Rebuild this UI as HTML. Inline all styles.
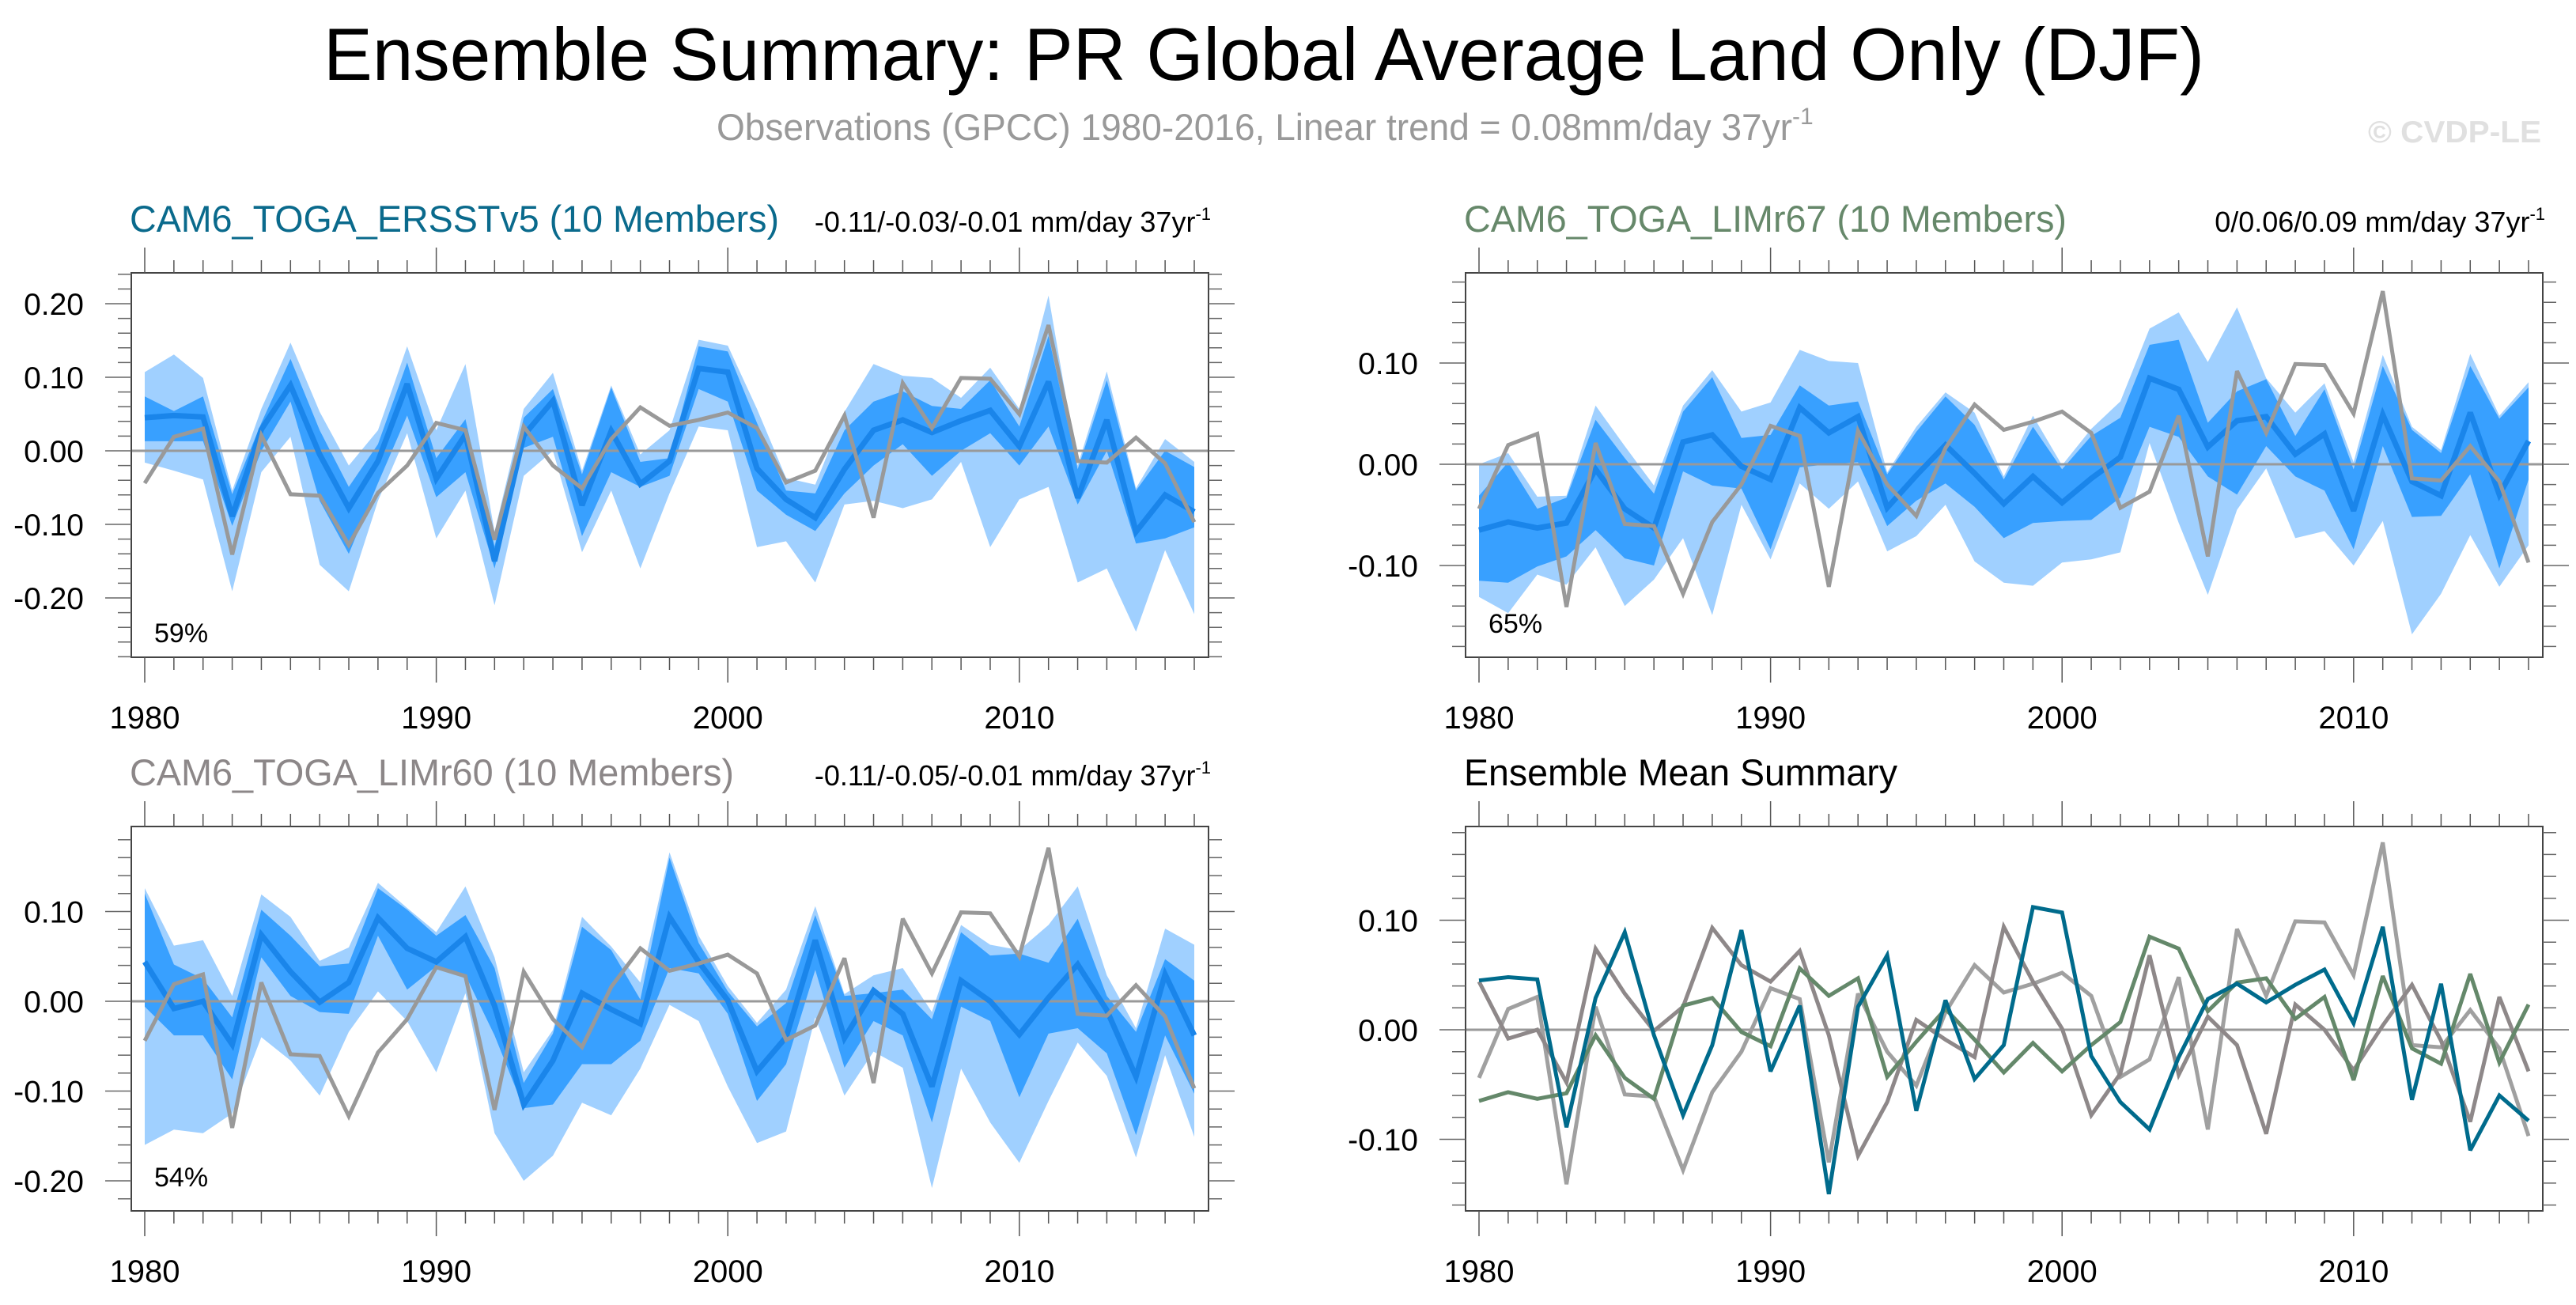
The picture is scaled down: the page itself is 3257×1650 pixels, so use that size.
<!DOCTYPE html>
<html><head><meta charset="utf-8"><style>
html,body{margin:0;padding:0;background:#fff;}
svg{display:block;font-family:"Liberation Sans",Arial,sans-serif;}
</style></head><body>
<svg id="chart" width="3257" height="1650" viewBox="0 0 3257 1650" xmlns="http://www.w3.org/2000/svg">
<text x="409" y="101" font-size="94" textLength="2378" lengthAdjust="spacingAndGlyphs" fill="#000">Ensemble Summary: PR Global Average Land Only (DJF)</text>
<text x="906" y="177" font-size="47" fill="#999"><tspan textLength="1360" lengthAdjust="spacingAndGlyphs">Observations (GPCC) 1980-2016, Linear trend = 0.08mm/day 37yr</tspan><tspan font-size="30" dy="-20">-1</tspan></text>
<text x="2994" y="180" font-size="39" font-weight="bold" fill="#e0e0e0" textLength="219" lengthAdjust="spacingAndGlyphs">© CVDP-LE</text>
<g id="panels"></g>
</svg>
<script>
const years = [];for(let y=1980;y<=2016;y++)years.push(y);
const obs = [-0.044,0.019,0.030,-0.141,0.021,-0.059,-0.061,-0.128,-0.057,-0.020,0.038,0.028,-0.121,0.033,-0.020,-0.051,0.016,0.059,0.034,0.042,0.052,0.031,-0.043,-0.027,0.048,-0.091,0.092,0.031,0.099,0.098,0.050,0.171,-0.014,-0.016,0.018,-0.017,-0.097];
const meanERSST = [0.045,0.048,0.046,-0.089,0.029,0.089,-0.005,-0.078,-0.014,0.091,-0.038,0.022,-0.150,0.021,0.068,-0.074,0.027,-0.045,-0.014,0.112,0.107,-0.024,-0.066,-0.091,-0.025,0.028,0.042,0.025,0.041,0.055,0.006,0.094,-0.064,0.042,-0.110,-0.060,-0.083];
const meanLIMr67 = [-0.065,-0.057,-0.063,-0.058,-0.005,-0.044,-0.063,0.022,0.029,-0.002,-0.015,0.056,0.031,0.047,-0.043,-0.011,0.019,-0.009,-0.039,-0.012,-0.038,-0.014,0.007,0.085,0.074,0.017,0.043,0.047,0.010,0.030,-0.046,0.049,-0.017,-0.031,0.051,-0.030,0.023];
const meanLIMr60 = [0.044,-0.008,0.000,-0.048,0.074,0.033,-0.001,0.021,0.093,0.059,0.044,0.072,-0.005,-0.115,-0.066,0.009,-0.009,-0.025,0.094,0.044,0.001,-0.078,-0.040,0.068,-0.041,0.012,-0.014,-0.095,0.023,0.000,-0.037,0.004,0.041,-0.010,-0.084,0.030,-0.038];
const ersOuterHi = [0.107,0.131,0.099,-0.054,0.057,0.147,0.053,-0.020,0.028,0.142,0.028,0.118,-0.110,0.057,0.106,-0.027,0.089,-0.005,0.028,0.151,0.143,0.057,-0.037,-0.046,0.053,0.118,0.102,0.099,0.072,0.113,0.057,0.211,-0.020,0.108,-0.051,0.016,-0.015];
const ersInnerHi = [0.074,0.054,0.074,-0.059,0.038,0.125,0.028,-0.049,0.009,0.120,-0.010,0.043,-0.130,0.045,0.084,-0.032,0.086,-0.015,-0.010,0.142,0.135,0.038,-0.054,-0.058,0.028,0.067,0.081,0.061,0.057,0.096,0.033,0.156,-0.025,0.096,-0.054,0.000,-0.022];
const ersInnerLo = [0.013,0.013,0.013,-0.102,0.000,0.067,-0.068,-0.140,-0.044,0.048,-0.063,-0.029,-0.160,0.004,0.019,-0.116,-0.029,-0.049,-0.034,0.084,0.067,-0.054,-0.087,-0.109,-0.058,-0.020,0.009,-0.034,0.000,0.024,-0.020,0.033,-0.073,0.000,-0.126,-0.119,-0.104];
const ersOuterLo = [-0.016,-0.027,-0.039,-0.191,-0.029,0.019,-0.155,-0.191,-0.068,0.024,-0.119,-0.054,-0.210,-0.034,0.000,-0.138,-0.054,-0.160,-0.058,0.033,0.028,-0.131,-0.123,-0.179,-0.073,-0.068,-0.078,-0.066,-0.015,-0.131,-0.066,-0.049,-0.179,-0.160,-0.246,-0.135,-0.222];
const r67OuterHi = [0.000,0.011,-0.032,-0.031,0.058,0.018,-0.021,0.058,0.093,0.052,0.061,0.113,0.102,0.100,-0.008,0.037,0.071,0.051,-0.012,0.048,-0.001,0.035,0.062,0.134,0.150,0.101,0.155,0.085,0.051,0.080,0.002,0.108,0.037,0.014,0.109,0.048,0.081];
const r67InnerHi = [-0.031,0.002,-0.044,-0.033,0.044,0.006,-0.029,0.052,0.086,0.026,0.029,0.078,0.058,0.062,-0.010,0.032,0.067,0.039,-0.015,0.037,-0.005,0.028,0.046,0.118,0.123,0.041,0.072,0.084,0.028,0.074,-0.005,0.097,0.034,0.011,0.097,0.045,0.076];
const r67InnerLo = [-0.115,-0.117,-0.101,-0.091,-0.065,-0.093,-0.100,-0.007,-0.021,-0.024,-0.084,-0.003,0.000,0.002,-0.061,-0.036,-0.019,-0.042,-0.073,-0.058,-0.056,-0.055,-0.033,0.037,0.027,-0.012,-0.030,0.018,-0.012,-0.026,-0.084,0.018,-0.052,-0.051,-0.010,-0.103,-0.015];
const r67OuterLo = [-0.131,-0.147,-0.109,-0.119,-0.082,-0.140,-0.114,-0.073,-0.149,-0.040,-0.094,-0.019,-0.044,-0.017,-0.086,-0.071,-0.040,-0.096,-0.117,-0.120,-0.097,-0.094,-0.087,0.021,-0.058,-0.129,-0.045,-0.004,-0.073,-0.066,-0.100,-0.056,-0.168,-0.128,-0.070,-0.121,-0.080];
const r60OuterHi = [0.126,0.062,0.068,0.006,0.119,0.094,0.045,0.060,0.132,0.104,0.077,0.128,0.049,-0.079,-0.032,0.094,0.061,0.021,0.166,0.073,0.017,-0.024,0.013,0.106,0.008,0.029,0.037,-0.012,0.085,0.063,0.057,0.085,0.128,0.029,-0.030,0.081,0.063];
const r60InnerHi = [0.120,0.041,0.025,-0.018,0.102,0.073,0.039,0.042,0.126,0.102,0.073,0.096,0.037,-0.091,-0.036,0.083,0.057,0.002,0.160,0.065,0.011,-0.028,-0.002,0.096,0.006,0.009,0.013,-0.020,0.077,0.051,0.053,0.043,0.092,0.006,-0.034,0.047,0.023];
const r60InnerLo = [-0.006,-0.038,-0.038,-0.087,0.049,0.006,-0.012,-0.014,0.073,0.013,0.039,0.029,-0.038,-0.119,-0.115,-0.070,-0.070,-0.044,0.037,0.031,-0.014,-0.111,-0.070,0.035,-0.074,-0.022,-0.038,-0.135,-0.006,-0.022,-0.107,-0.036,-0.030,-0.058,-0.149,-0.038,-0.103];
const r60OuterLo = [-0.160,-0.143,-0.147,-0.125,-0.040,-0.066,-0.105,-0.034,0.011,-0.022,-0.079,0.009,-0.147,-0.200,-0.172,-0.113,-0.127,-0.075,-0.004,-0.022,-0.095,-0.158,-0.145,-0.018,-0.105,-0.056,-0.074,-0.208,-0.075,-0.135,-0.180,-0.111,-0.046,-0.083,-0.174,-0.060,-0.151];
const xTickLabels = [1980,1990,2000,2010];
const yTicksP1 = [0.20,0.10,0.00,-0.10,-0.20];
const yTicksP2 = [0.10,0.00,-0.10];
const yTicksP3 = [0.10,0.00,-0.10,-0.20];
const yTicksP4 = [0.10,0.00,-0.10];

const NS="http://www.w3.org/2000/svg";
const root=document.getElementById('panels');
function el(tag,attrs,parent){const e=document.createElementNS(NS,tag);for(const k in attrs)e.setAttribute(k,attrs[k]);(parent||root).appendChild(e);return e;}

function panel(cfg){
  const g=el('g',{});
  
  
  const L=cfg.left,R=cfg.right,T=cfg.top,B=cfg.bottom;
  const x0=L+17,x1=R-18;
  const k=cfg.pxPer01*10;
  const xs=y=>x0+(y-1980)*(x1-x0)/36;
  const ys=v=>cfg.zeroY - v*k;
  const vTop=(cfg.zeroY-T)/k, vBot=(cfg.zeroY-B)/k;
  if(cfg.bands){
    const poly=(hi,lo,fill,nm)=>{
      let d='M'+years.map((y,i)=>xs(y).toFixed(1)+','+ys(hi[i]).toFixed(1)).join('L');
      d+='L'+years.slice().reverse().map((y,j)=>{const i=years.length-1-j;return xs(y).toFixed(1)+','+ys(lo[i]).toFixed(1);}).join('L')+'Z';
      const p=el('path',{d:d,fill:fill},g);
      
      
    };
    poly(cfg.bands[0],cfg.bands[3],'#a0d0ff','outer-range-band');
    poly(cfg.bands[1],cfg.bands[2],'#38a0ff','inner-range-band');
  }
  const z=el('line',{x1:L,x2:R,y1:ys(0),y2:ys(0),stroke:'#999','stroke-width':3},g);
  
  
  cfg.series.forEach(s=>{
    const d='M'+years.map((y,i)=>xs(y).toFixed(1)+','+ys(s.data[i]).toFixed(1)).join('L');
    const p=el('path',{d:d,fill:'none',stroke:s.color,'stroke-width':s.w,'stroke-linejoin':'miter','stroke-miterlimit':3},g);
    
    
  });
  const fr=el('rect',{x:L,y:T,width:R-L,height:B-T,fill:'none',stroke:'#444','stroke-width':2},g);
  
  
  years.forEach(y=>{
    const major=(y%10===0), len=major?32:16, x=xs(y);
    el('line',{x1:x,x2:x,y1:T,y2:T-len,stroke:'#555','stroke-width':1.5},g);
    el('line',{x1:x,x2:x,y1:B,y2:B+len,stroke:'#555','stroke-width':1.5},g);
  });
  xTickLabels.forEach(y=>{
    const t=el('text',{x:xs(y),y:B+90,'font-size':40,'text-anchor':'middle',fill:'#000'},g);
    
    
    t.textContent=y;
  });
  for(let j=Math.ceil(vBot/0.02);j<=Math.floor(vTop/0.02);j++){
    const v=j*0.02, yy=ys(v);
    const major=Math.abs(j)%5===0, len=major?33:17;
    el('line',{x1:L,x2:L-len,y1:yy,y2:yy,stroke:'#666','stroke-width':1.5},g);
    el('line',{x1:R,x2:R+len,y1:yy,y2:yy,stroke:'#666','stroke-width':1.5},g);
  }
  cfg.yTicks.forEach(v=>{
    const t=el('text',{x:L-60,y:ys(v)+14,'font-size':39,'text-anchor':'end',fill:'#000'},g);
    
    
    t.textContent=v.toFixed(2);
  });
  const tt=el('text',{x:L-2,y:T-52,'font-size':47,fill:cfg.titleColor,textLength:cfg.titleLen,lengthAdjust:'spacingAndGlyphs'},g);
  
  
  tt.textContent=cfg.title;
  if(cfg.trend){
    const tr=el('text',{x:R+3,y:T-52,'font-size':36,'text-anchor':'end',fill:'#000'},g);
    
    
    const a=el('tspan',{},tr);a.textContent=cfg.trend;
    const b=el('tspan',{'font-size':22,dy:-15},tr);b.textContent='-1';
  }
  if(cfg.pct){
    const pc=el('text',{x:L+29,y:cfg.pctY,'font-size':34,fill:'#000'},g);
    
    
    pc.textContent=cfg.pct;
  }
}

panel({name:'panel-ersstv5',left:166,right:1528,top:345,bottom:831,zeroY:570,pxPer01:93,
  bands:[ersOuterHi,ersInnerHi,ersInnerLo,ersOuterLo],
  series:[{name:'ensemble-mean-line',data:meanERSST,color:'#1a85ea',w:7},{name:'observations-line',data:obs,color:'#999',w:5}],
  yTicks:yTicksP1,title:'CAM6_TOGA_ERSSTv5 (10 Members)',titleColor:'#0a6a8c',titleLen:821,
  trend:'-0.11/-0.03/-0.01 mm/day 37yr',pct:'59%',pctY:812});
panel({name:'panel-limr67',left:1853,right:3215,top:345,bottom:831,zeroY:587,pxPer01:128,
  bands:[r67OuterHi,r67InnerHi,r67InnerLo,r67OuterLo],
  series:[{name:'ensemble-mean-line',data:meanLIMr67,color:'#1a85ea',w:7},{name:'observations-line',data:obs,color:'#999',w:5}],
  yTicks:yTicksP2,title:'CAM6_TOGA_LIMr67 (10 Members)',titleColor:'#66886a',titleLen:762,
  trend:'0/0.06/0.09 mm/day 37yr',pct:'65%',pctY:800});
panel({name:'panel-limr60',left:166,right:1528,top:1045,bottom:1531,zeroY:1266,pxPer01:113.5,
  bands:[r60OuterHi,r60InnerHi,r60InnerLo,r60OuterLo],
  series:[{name:'ensemble-mean-line',data:meanLIMr60,color:'#1a85ea',w:7},{name:'observations-line',data:obs,color:'#999',w:5}],
  yTicks:yTicksP3,title:'CAM6_TOGA_LIMr60 (10 Members)',titleColor:'#8c8788',titleLen:764,
  trend:'-0.11/-0.05/-0.01 mm/day 37yr',pct:'54%',pctY:1500});
panel({name:'panel-ensemble-mean-summary',left:1853,right:3215,top:1045,bottom:1531,zeroY:1302,pxPer01:138.5,
  bands:null,
  series:[{name:'observations-line',data:obs,color:'#a0a0a0',w:5},{name:'limr60-mean-line',data:meanLIMr60,color:'#8e8889',w:5},
          {name:'limr67-mean-line',data:meanLIMr67,color:'#64886a',w:5},{name:'ersstv5-mean-line',data:meanERSST,color:'#006b8c',w:5}],
  yTicks:yTicksP4,title:'Ensemble Mean Summary',titleColor:'#000',titleLen:548});
</script>
</body></html>
